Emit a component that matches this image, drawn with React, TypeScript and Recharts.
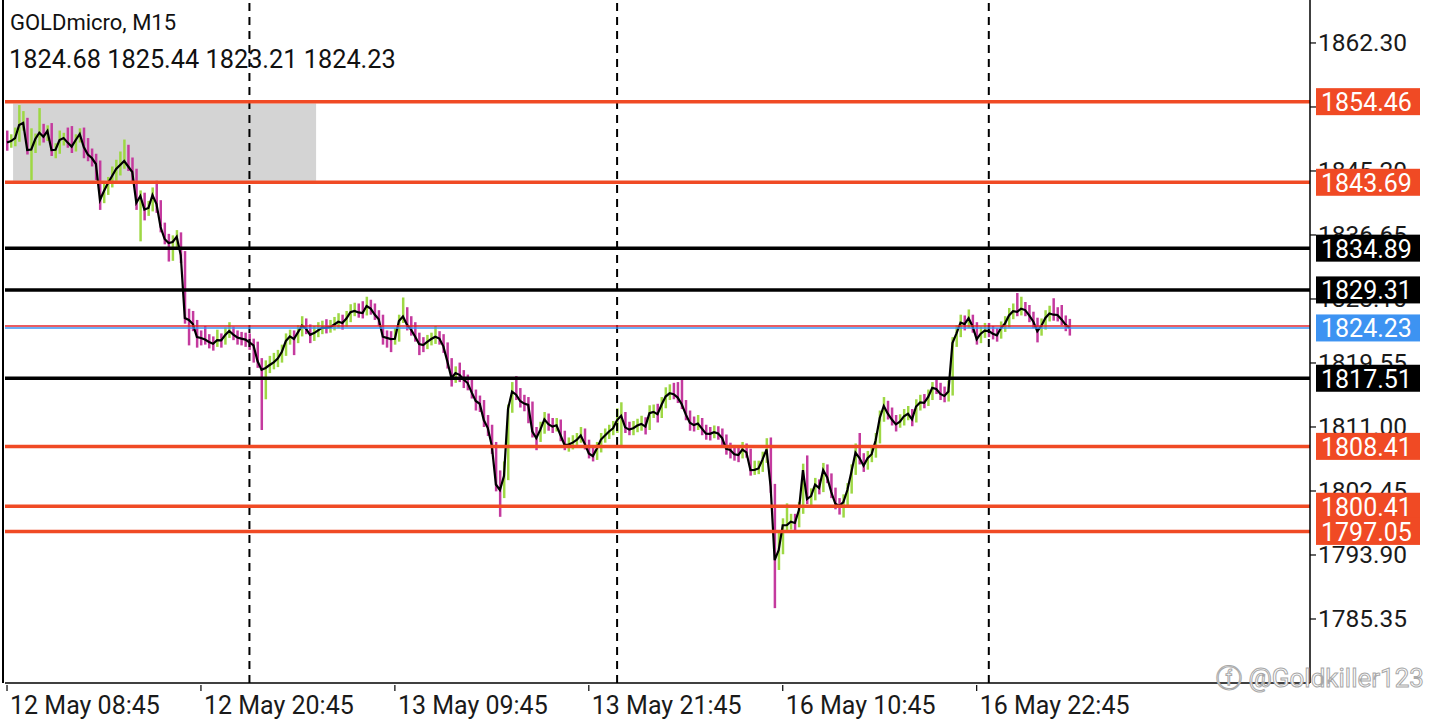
import React from "react";
import { ComposedChart, Bar, Line, XAxis, YAxis, ReferenceLine, ReferenceArea, Cell } from "recharts";

// M15 closes left to right
const closes = [
  1849.00, 1849.20, 1849.60, 1851.34, 1851.61, 1848.00, 1848.07, 1849.47, 1850.31, 1849.78,
  1850.54, 1848.00, 1848.03, 1849.34, 1849.60, 1848.99, 1848.45, 1849.34, 1850.14, 1848.40,
  1847.40, 1846.93, 1846.13, 1841.32, 1842.52, 1843.59, 1844.53, 1845.46, 1846.00, 1846.53,
  1845.80, 1845.06, 1840.92, 1841.85, 1840.04, 1840.25, 1841.99, 1840.79, 1837.71, 1836.11,
  1835.58, 1835.71, 1836.42, 1833.97, 1825.56, 1825.29, 1824.75, 1823.02, 1822.88, 1822.68,
  1822.35, 1822.12, 1822.59, 1822.58, 1823.28, 1823.82, 1823.35, 1822.96, 1822.80, 1822.67,
  1822.30, 1821.89, 1819.81, 1818.63, 1818.88, 1819.28, 1819.64, 1820.14, 1821.01, 1822.48,
  1823.10, 1822.75, 1823.64, 1824.54, 1824.13, 1823.31, 1823.55, 1823.91, 1824.27, 1824.25,
  1824.34, 1824.69, 1825.06, 1824.89, 1825.48, 1826.33, 1826.50, 1826.30, 1826.22, 1827.16,
  1826.82, 1826.02, 1825.40, 1823.06, 1822.91, 1822.75, 1822.79, 1825.15, 1825.77, 1824.65,
  1824.01, 1823.08, 1822.08, 1821.95, 1822.38, 1822.75, 1823.06, 1822.82, 1821.77, 1819.73,
  1817.54, 1818.21, 1817.97, 1817.35, 1816.87, 1815.62, 1814.47, 1814.10, 1811.93, 1810.86,
  1808.45, 1803.32, 1802.58, 1804.45, 1813.42, 1815.71, 1815.31, 1814.47, 1814.13, 1813.95,
  1810.42, 1809.50, 1810.65, 1812.02, 1811.37, 1811.05, 1811.23, 1809.90, 1808.59, 1808.65,
  1808.91, 1809.26, 1809.86, 1808.75, 1807.47, 1807.11, 1808.13, 1809.32, 1809.86, 1810.40,
  1810.82, 1811.93, 1812.50, 1810.95, 1810.65, 1810.83, 1811.19, 1811.41, 1811.05, 1812.85,
  1813.02, 1812.72, 1813.97, 1815.07, 1815.50, 1815.38, 1814.93, 1814.04, 1812.68, 1811.57,
  1811.25, 1811.47, 1810.78, 1810.12, 1810.08, 1810.30, 1810.14, 1809.52, 1808.07, 1807.92,
  1807.35, 1807.25, 1807.99, 1807.61, 1805.25, 1805.28, 1805.46, 1806.68, 1808.01, 1803.02,
  1793.22, 1794.56, 1797.87, 1797.90, 1798.34, 1798.18, 1799.90, 1805.25, 1801.37, 1801.77,
  1803.31, 1802.84, 1805.25, 1804.26, 1802.31, 1800.77, 1800.44, 1800.97, 1802.58, 1805.03,
  1807.57, 1806.85, 1805.82, 1806.84, 1807.37, 1809.22, 1812.20, 1813.81, 1812.77, 1811.99,
  1811.35, 1811.70, 1812.44, 1812.77, 1812.02, 1813.74, 1814.28, 1814.23, 1815.01, 1816.22,
  1816.08, 1815.42, 1815.15, 1815.75, 1822.22, 1823.51, 1824.95, 1824.75, 1825.53, 1824.42,
  1822.72, 1823.46, 1823.86, 1823.82, 1823.46, 1823.24, 1824.22, 1824.81, 1825.90, 1826.46,
  1826.37, 1826.80, 1826.62, 1825.90, 1825.10, 1823.79, 1824.49, 1825.56, 1826.17, 1826.00,
  1825.96, 1825.37, 1824.67, 1824.23,
];

const highs = [
  1850.6, 1850.1, 1851.0, 1854.0, 1853.2, 1852.3, 1850.9, 1850.2, 1853.6, 1851.5,
  1851.3, 1851.6, 1848.9, 1850.6, 1850.3, 1851.0, 1851.2, 1850.1, 1850.9, 1851.0,
  1849.6, 1848.2, 1847.5, 1846.6, 1843.5, 1844.4, 1845.8, 1846.7, 1847.8, 1849.4,
  1848.7, 1847.0, 1845.5, 1842.6, 1842.3, 1841.2, 1843.0, 1843.9, 1841.3, 1838.3,
  1836.8, 1836.6, 1837.3, 1837.0, 1834.5, 1826.8, 1826.5, 1825.3, 1823.9, 1824.5,
  1823.4, 1823.1, 1824.0, 1823.5, 1824.3, 1825.0, 1824.4, 1823.9, 1823.7, 1823.6,
  1823.5, 1822.8, 1822.4, 1820.2, 1819.9, 1820.5, 1820.9, 1821.3, 1822.0, 1823.5,
  1824.0, 1823.9, 1824.6, 1825.8, 1825.5, 1824.7, 1824.5, 1825.0, 1825.2, 1825.4,
  1825.3, 1825.7, 1826.2, 1826.0, 1826.5, 1827.4, 1827.6, 1827.5, 1827.8, 1828.4,
  1828.0, 1827.5, 1826.6, 1826.0, 1823.9, 1823.8, 1824.2, 1826.0, 1828.3, 1827.0,
  1825.8, 1825.0, 1823.6, 1823.0, 1823.3, 1823.6, 1824.5, 1823.8, 1823.4, 1822.3,
  1820.2, 1819.1, 1819.6, 1818.6, 1818.0, 1817.5, 1816.0, 1815.2, 1814.6, 1812.6,
  1811.3, 1809.0, 1805.2, 1806.4, 1814.0, 1817.0, 1817.8, 1816.2, 1815.3, 1815.0,
  1814.4, 1811.0, 1811.7, 1813.0, 1812.8, 1812.2, 1812.2, 1812.0, 1810.5, 1809.6,
  1809.9, 1810.2, 1811.0, 1810.8, 1809.3, 1808.2, 1809.0, 1810.2, 1810.8, 1811.3,
  1811.8, 1813.5, 1814.3, 1813.0, 1811.7, 1811.8, 1812.1, 1812.5, 1812.3, 1813.9,
  1814.0, 1814.1, 1815.0, 1816.3, 1816.7, 1816.9, 1817.0, 1817.3, 1814.6, 1813.2,
  1812.4, 1812.6, 1812.2, 1811.3, 1811.0, 1811.2, 1811.1, 1810.8, 1810.0, 1808.9,
  1808.6, 1808.2, 1809.0, 1808.8, 1808.1, 1806.5, 1806.5, 1807.7, 1809.5, 1809.6,
  1803.4, 1797.0, 1798.8, 1800.8, 1799.4, 1799.4, 1801.0, 1806.1, 1807.2, 1802.8,
  1804.2, 1804.0, 1806.2, 1806.0, 1804.8, 1802.9, 1801.5, 1802.0, 1803.5, 1806.0,
  1808.8, 1810.2, 1807.5, 1807.8, 1808.4, 1810.2, 1813.2, 1815.0, 1814.5, 1813.6,
  1812.6, 1812.7, 1813.4, 1813.8, 1813.4, 1814.7, 1815.3, 1815.4, 1816.0, 1817.0,
  1817.3, 1816.9, 1816.4, 1817.2, 1823.0, 1824.6, 1826.0, 1825.9, 1826.7, 1826.0,
  1825.0, 1824.4, 1824.9, 1824.9, 1824.5, 1824.2, 1825.1, 1825.8, 1826.9, 1827.5,
  1828.9, 1828.4, 1827.7, 1827.3, 1826.4, 1825.6, 1825.5, 1826.6, 1827.2, 1828.2,
  1827.0, 1827.3, 1825.9, 1825.44,
];

const lows = [
  1847.9, 1848.3, 1848.5, 1849.1, 1850.6, 1847.4, 1844.0, 1847.6, 1848.6, 1849.0,
  1849.2, 1847.2, 1846.9, 1847.5, 1848.6, 1848.3, 1847.6, 1847.8, 1849.0, 1846.9,
  1846.5, 1845.8, 1844.0, 1840.0, 1840.9, 1842.0, 1843.0, 1843.9, 1844.6, 1845.5,
  1845.2, 1843.6, 1840.0, 1835.8, 1838.6, 1839.2, 1839.8, 1839.6, 1837.0, 1835.4,
  1833.1, 1833.2, 1835.0, 1832.9, 1824.8, 1821.9, 1823.8, 1821.6, 1821.9, 1822.0,
  1821.5, 1821.2, 1821.7, 1821.6, 1822.0, 1822.9, 1822.6, 1822.0, 1821.9, 1821.7,
  1821.3, 1819.6, 1818.9, 1810.6, 1814.7, 1818.2, 1818.7, 1819.0, 1819.6, 1820.5,
  1822.0, 1820.6, 1822.2, 1823.1, 1823.4, 1822.2, 1822.5, 1823.0, 1823.4, 1823.5,
  1823.6, 1823.9, 1824.2, 1824.0, 1824.4, 1825.0, 1825.8, 1825.6, 1825.5, 1825.9,
  1826.0, 1825.3, 1824.5, 1822.0, 1821.6, 1821.0, 1822.0, 1822.4, 1824.9, 1823.9,
  1823.2, 1822.4, 1820.6, 1821.0, 1821.4, 1821.9, 1822.1, 1822.0, 1820.9, 1818.8,
  1816.4, 1816.9, 1817.0, 1816.2, 1815.9, 1814.8, 1813.2, 1813.0, 1811.0, 1809.8,
  1807.4, 1802.4, 1799.0, 1801.5, 1803.9, 1812.9, 1814.6, 1813.6, 1813.1, 1811.5,
  1809.6, 1807.9, 1809.0, 1810.1, 1810.5, 1810.2, 1810.4, 1809.1, 1807.9, 1807.7,
  1808.0, 1808.4, 1808.9, 1808.0, 1806.8, 1806.4, 1806.6, 1807.6, 1808.9, 1809.4,
  1809.9, 1810.2, 1808.3, 1810.2, 1809.9, 1809.9, 1810.3, 1810.5, 1810.0, 1810.6,
  1812.2, 1811.6, 1812.2, 1813.5, 1814.6, 1814.7, 1814.2, 1813.4, 1811.9, 1810.5,
  1810.4, 1810.6, 1809.9, 1809.3, 1809.2, 1809.5, 1809.3, 1808.6, 1807.3, 1806.8,
  1806.5, 1806.3, 1806.8, 1806.9, 1804.5, 1804.6, 1804.7, 1805.0, 1806.2, 1802.2,
  1786.8, 1791.9, 1794.0, 1797.0, 1797.3, 1797.1, 1797.6, 1799.4, 1800.7, 1800.5,
  1801.2, 1802.0, 1802.3, 1803.5, 1801.5, 1800.0, 1799.3, 1798.9, 1800.3, 1802.1,
  1804.6, 1806.0, 1805.0, 1805.3, 1806.3, 1806.9, 1808.8, 1811.7, 1812.0, 1811.2,
  1810.4, 1810.9, 1811.2, 1811.9, 1811.1, 1811.6, 1813.2, 1813.5, 1813.8, 1814.6,
  1815.4, 1814.6, 1814.3, 1814.4, 1815.2, 1821.7, 1823.0, 1823.9, 1824.2, 1823.6,
  1822.0, 1822.2, 1822.9, 1823.0, 1822.7, 1822.4, 1822.8, 1823.7, 1824.3, 1825.4,
  1825.8, 1825.9, 1825.8, 1825.0, 1824.2, 1822.3, 1823.2, 1824.0, 1825.1, 1825.2,
  1825.1, 1824.6, 1823.8, 1823.21,
];

const firstOpen = 1849.5;
const lastOpen = 1824.68;
const totalSlots = 323; // bars shown plus empty space on the right

const timeLabels = ["12 May 08:45", "12 May 20:45", "13 May 09:45", "13 May 21:45", "16 May 10:45", "16 May 22:45"];
const timeTickIdx = [0, 48, 96, 144, 192, 240];
const daySeparators = [60, 151, 243];

const priceTicks = [1862.3, 1853.75, 1845.2, 1836.65, 1828.1, 1819.55, 1811.0, 1802.45, 1793.9, 1785.35];
const priceDomain = [1776.8, 1868.04];

const redLevels = [1854.46, 1843.69, 1808.41, 1800.41, 1797.05];
const blackLevels = [1834.89, 1829.31, 1817.51];
const bidPrice = 1824.23;
const askPrice = 1824.48;

const zoneBars = [2, 76];
const zonePrices = [1843.9, 1854.2];

const UP = "#9ed844";
const DOWN = "#c43a9e";
const RED = "#f04a24";
const BLUE = "#3d93f2";
const FONT = "Roboto, sans-serif";

const data = Array.from({ length: totalSlots }, (_, i) => {
  if (i >= closes.length) return { i };
  const open = i === 0 ? firstOpen : i === closes.length - 1 ? lastOpen : closes[i - 1];
  return { i, close: closes[i], range: [lows[i], highs[i]], up: closes[i] >= open };
});

const TimeTick = (props: any) => {
  const { x, y, payload } = props;
  const label = timeLabels[timeTickIdx.indexOf(payload.value)];
  return (
    <g>
      <line x1={x} x2={x} y1={y} y2={y + 6} stroke="#000" strokeWidth={1.2} />
      <text x={x + 3} y={y + 29} fontSize={25} fontFamily={FONT} fill="#1a1a1a">{label}</text>
    </g>
  );
};

// price scale labels are drawn as reference-line labels so the level tags can sit on top of them
const priceTickLabel = (value: number) => (props: any) => {
  const vb = props.viewBox || {};
  const right = (vb.x || 0) + (vb.width || 0);
  const y = vb.y || 0;
  return (
    <g>
      <line x1={right} x2={right + 6} y1={y} y2={y} stroke="#000" strokeWidth={1.2} />
      <text x={right + 8} y={y} dominantBaseline="central" fontSize={24.5} fontFamily={FONT} fill="#1a1a1a">
        {value.toFixed(2)}
      </text>
    </g>
  );
};

const priceTag = (value: number, bg: string) => (props: any) => {
  const vb = props.viewBox || {};
  const right = (vb.x || 0) + (vb.width || 0);
  const y = vb.y || 0;
  return (
    <g>
      <rect x={right + 6} y={y - 13.5} width={104} height={27} fill={bg} />
      <text x={right + 11} y={y + 1} dominantBaseline="central" fontSize={25} fontFamily={FONT} fill="#fff">
        {value.toFixed(2)}
      </text>
    </g>
  );
};

export default function App() {
  return (
    <div style={{ position: "absolute", left: 0, top: 0, width: 1440, height: 720, background: "#fff", fontFamily: FONT, overflow: "hidden" }}>
      <ComposedChart width={1440} height={720} data={data} margin={{ top: 0, right: 0, bottom: 0, left: 5 }}>
        <ReferenceArea x1={zoneBars[0]} x2={zoneBars[1]} y1={zonePrices[0]} y2={zonePrices[1]} fill="#d4d4d4" fillOpacity={1} stroke="none" />
        <XAxis
          dataKey="i"
          type="category"
          ticks={timeTickIdx}
          interval={0}
          tick={<TimeTick />}
          tickLine={false}
          tickSize={0}
          height={37}
          axisLine={{ stroke: "#000", strokeWidth: 1.5 }}
        />
        <YAxis
          orientation="right"
          type="number"
          domain={priceDomain}
          allowDataOverflow
          ticks={priceTicks}
          tick={false}
          tickLine={false}
          tickSize={0}
          width={130}
          axisLine={{ stroke: "#000", strokeWidth: 1.5 }}
        />
        {daySeparators.map((d) => (
          <ReferenceLine key={d} x={d} stroke="#000" strokeWidth={2} strokeDasharray="8 6" />
        ))}
        <Bar dataKey="range" barSize={2.5} isAnimationActive={false}>
          {data.map((d: any) => (
            <Cell key={d.i} fill={d.up ? UP : DOWN} />
          ))}
        </Bar>
        <Line dataKey="close" type="linear" stroke="#000" strokeWidth={2.2} dot={false} isAnimationActive={false} />
        {priceTicks.map((v) => (
          <ReferenceLine key={"t" + v} y={v} stroke="none" strokeWidth={0} label={priceTickLabel(v)} />
        ))}
        {redLevels.map((v) => (
          <ReferenceLine key={v} y={v} stroke={RED} strokeWidth={3.5} label={priceTag(v, RED)} />
        ))}
        {blackLevels.map((v) => (
          <ReferenceLine key={v} y={v} stroke="#000" strokeWidth={3.5} label={priceTag(v, "#000")} />
        ))}
        <ReferenceLine y={askPrice} stroke="#e3262d" strokeWidth={1.5} />
        <ReferenceLine y={bidPrice} stroke={BLUE} strokeWidth={1.5} label={priceTag(bidPrice, BLUE)} />
      </ComposedChart>
      <div style={{ position: "absolute", left: 2, top: 0, width: 1.5, height: 683, background: "#000" }} />
      <div style={{ position: "absolute", left: 10, top: 10, fontSize: 22, color: "#111", lineHeight: "26px" }}>GOLDmicro, M15</div>
      <div style={{ position: "absolute", left: 9, top: 45, fontSize: 25.3, color: "#111", lineHeight: "30px" }}>
        1824.68 1825.44 1823.21 1824.23
      </div>
      <div style={{ position: "absolute", left: 1216, top: 662, fontSize: 26, color: "#fff", WebkitTextStroke: "1px #a8a8a8", lineHeight: "32px" }}>
        ⓕ @Goldkiller123
      </div>
    </div>
  );
}
